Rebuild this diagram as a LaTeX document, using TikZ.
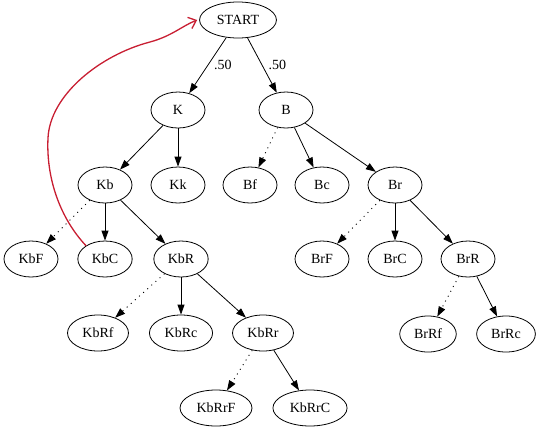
\documentclass[tikz,border=0pt]{standalone}
\usepackage{fontspec}
\setmainfont{Liberation Serif}
\usetikzlibrary{arrows.meta,shapes.geometric}
\definecolor{penred}{RGB}{200,30,50}

\begin{document}
\begin{tikzpicture}[x=1pt, y=-1pt,
	every node/.style={font=\fontsize{14}{16}\selectfont},
	>={Triangle[length=10pt,width=7pt]},
	st/.style={draw, ellipse, line width=0.8pt, minimum width=54pt, minimum height=36pt, inner xsep=6pt, inner ysep=2pt},
	edge/.style={->, line width=0.8pt},
	lost/.style={->, line width=0.9pt, dash pattern=on 1pt off 4.5pt}]
	\useasboundingbox (0,0) rectangle (540,431);
	% tree nodes
	\node[st] (start) at (238,20) {START};
	\node[st] (k) at (178,110) {K};
	\node[st] (b) at (286,110) {B};
	\node[st] (kb) at (105,185) {Kb};
	\node[st] (kk) at (178,185) {Kk};
	\node[st] (bf) at (250,185) {Bf};
	\node[st] (bc) at (322,185) {Bc};
	\node[st] (br) at (395,185) {Br};
	\node[st] (kbf) at (31,259) {KbF};
	\node[st] (kbc) at (105,259) {KbC};
	\node[st] (kbr) at (181,259) {KbR};
	\node[st] (brf) at (322,259) {BrF};
	\node[st] (brc) at (395,259) {BrC};
	\node[st] (brr) at (468,259) {BrR};
	\node[st] (kbrf) at (98,333) {KbRf};
	\node[st] (kbrc) at (181,333) {KbRc};
	\node[st] (kbrr) at (263,333) {KbRr};
	\node[st] (brrf) at (428,334) {BrRf};
	\node[st] (brrc) at (506,334) {BrRc};
	\node[st] (kbrrf) at (216,408) {KbRrF};
	\node[st] (kbrrc) at (310,408) {KbRrC};
	% edges
	\draw[edge] (start) -- (k) node[midway, right, inner sep=6pt] {.50};
	\draw[edge] (start) -- (b) node[midway, right, inner sep=6pt] {.50};
	\draw[edge] (k) -- (kb);
	\draw[edge] (k) -- (kk);
	\draw[lost] (b) -- (bf);
	\draw[edge] (b) -- (bc);
	\draw[edge] (b) -- (br);
	\draw[lost] (kb) -- (kbf);
	\draw[edge] (kb) -- (kbc);
	\draw[edge] (kb) -- (kbr);
	\draw[lost] (br) -- (brf);
	\draw[edge] (br) -- (brc);
	\draw[edge] (br) -- (brr);
	\draw[lost] (kbr) -- (kbrf);
	\draw[edge] (kbr) -- (kbrc);
	\draw[edge] (kbr) -- (kbrr);
	\draw[lost] (brr) -- (brrf);
	\draw[edge] (brr) -- (brrc);
	\draw[lost] (kbrr) -- (kbrrf);
	\draw[edge] (kbrr) -- (kbrrc);
	% hand drawn red arrow
	\draw[penred, line width=1.3pt, line cap=round, -{Straight Barb[length=7pt,width=12pt]}]
		(kbc.145) .. controls (60,218) and (46,178) .. (48,138)
		.. controls (50,95) and (100,55) .. (150,42)
		.. controls (172,36) and (182,26) .. ([xshift=-2pt]start.west);
\end{tikzpicture}
\end{document}
